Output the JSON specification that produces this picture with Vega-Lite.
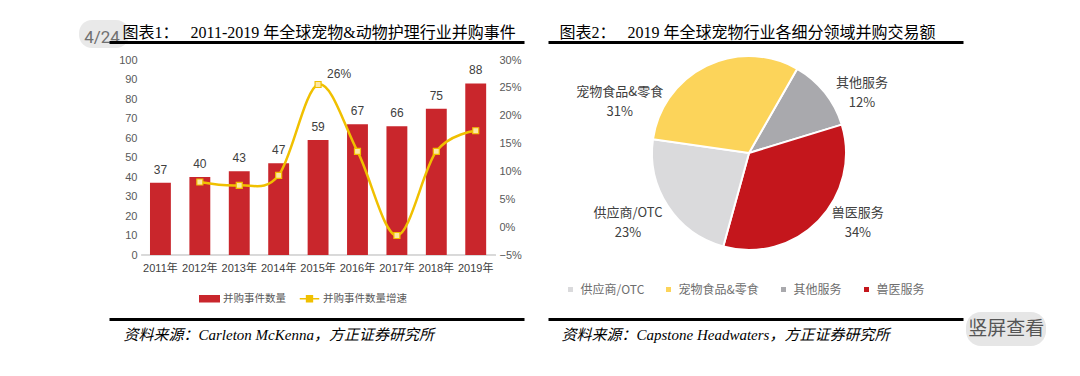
{
  "$schema": "https://vega.github.io/schema/vega-lite/v6.json",
  "background": "white",
  "autosize": {"type": "pad"},
  "padding": {"left": 78, "top": 20, "right": 5, "bottom": 5},
  "config": {
    "view": {"stroke": null},
    "font": "Liberation Sans, Noto Sans CJK SC",
    "axis": {"labelFont": "Liberation Sans, Noto Sans CJK SC", "labelOverlap": false},
    "legend": {"labelFont": "Noto Sans CJK SC"}
  },
  "datasets": {
    "events": [
      {"year": "2011年", "count": 37, "growth": null},
      {"year": "2012年", "count": 40, "growth": 0.081},
      {"year": "2013年", "count": 43, "growth": 0.075},
      {"year": "2014年", "count": 47, "growth": 0.093},
      {"year": "2015年", "count": 59, "growth": 0.256},
      {"year": "2016年", "count": 67, "growth": 0.136},
      {"year": "2017年", "count": 66, "growth": -0.015},
      {"year": "2018年", "count": 75, "growth": 0.136},
      {"year": "2019年", "count": 88, "growth": 0.173}
    ],
    "pie": [
      {"name": "其他服务", "share": 0.12, "ord": 1, "label": "其他服务\n12%"},
      {"name": "兽医服务", "share": 0.34, "ord": 2, "label": "兽医服务\n34%"},
      {"name": "供应商/OTC", "share": 0.23, "ord": 3, "label": "供应商/OTC\n23%"},
      {"name": "宠物食品&零食", "share": 0.31, "ord": 4, "label": "宠物食品&零食\n31%"}
    ]
  },
  "spacing": 24,
  "resolve": {"scale": {"color": "independent"}, "legend": {"color": "independent"}},
  "hconcat": [
    {
      "vconcat": [
        {
          "width": 415, "height": 1,
          "data": {"values": [{}]},
          "encoding": {
            "y": {"datum": 0.5, "type": "quantitative", "scale": {"domain": [0, 1]}, "axis": null}
          },
          "layer": [
            {
              "mark": {"type": "rect", "cornerRadius": 13, "color": "#E9E9E9"},
              "encoding": {
                "x": {"datum": -0.0723, "type": "quantitative"},
                "x2": {"datum": 0.0482},
                "y": {"datum": 23, "type": "quantitative"},
                "y2": {"datum": -5}
              }
            },
            {
              "mark": {"type": "point", "size": 0, "opacity": 0},
              "encoding": {
                "x": {"datum": 0.5, "type": "quantitative", "scale": {"domain": [0, 1]},
                  "axis": {"orient": "top", "labels": false, "ticks": false, "grid": false, "zindex": 1,
                    "domainColor": "#000000", "domainWidth": 3,
                    "title": "图表1：\u3000 2011-2019 年全球宠物&动物护理行业并购事件",
                    "titleAnchor": "start", "titleAlign": "left", "titleX": 13, "titleY": -10,
                    "titleBaseline": "middle", "titleFont": "Liberation Serif, Noto Sans CJK SC",
                    "titleFontSize": 16, "titleFontWeight": "normal", "titleColor": "#000000"}}
              }
            },
            {
              "mark": {"type": "text", "fontSize": 17, "color": "#707070", "font": "Roboto", "baseline": "middle"},
              "encoding": {
                "x": {"datum": -0.0169, "type": "quantitative"},
                "y": {"datum": 5, "type": "quantitative"},
                "text": {"value": "4/24"}
              }
            }
          ]
        },
        {
          "width": 415, "height": 195,
          "data": {"name": "events"},
          "encoding": {
            "x": {"field": "year", "type": "nominal", "sort": null,
              "scale": {"domain": ["2011年", "2012年", "2013年", "2014年", "2015年", "2016年", "2017年", "2018年", "2019年"],
                "paddingInner": 0.47, "paddingOuter": 1.195, "align": 0.52},
              "axis": {"title": null, "labelAngle": 0, "domain": false, "ticks": false,
                "labelPadding": 7, "labelFontSize": 11, "labelColor": "#404040", "labelOverlap": false}}
          },
          "layer": [
            {
              "encoding": {
                "y": {"field": "count", "type": "quantitative", "scale": {"domain": [0, 100]},
                  "axis": {"orient": "left", "title": null, "values": [0, 10, 20, 30, 40, 50, 60, 70, 80, 90, 100],
                    "labelOverlap": false, "domain": false, "ticks": false, "grid": false, "offset": -38, "labelPadding": 10,
                    "labelFontSize": 11, "labelColor": "#595959"}}
              },
              "layer": [
                {
                  "mark": {"type": "rule", "color": "#D9D9D9", "strokeWidth": 1},
                  "encoding": {
                    "x": {"datum": "2011年", "type": "nominal", "bandPosition": -0.4},
                    "x2": {"datum": "2019年", "bandPosition": 1.45},
                    "y": {"datum": 0, "type": "quantitative"}
                  }
                },
                {
                  "mark": {"type": "bar"},
                  "encoding": {
                    "color": {"datum": "并购事件数量",
                      "scale": {"domain": ["并购事件数量", "并购事件数量增速"], "range": ["#C9262C", "#F0C000"]},
                      "legend": {"orient": "none", "legendX": 90, "legendY": 228, "direction": "horizontal", "title": null,
                        "labelFontSize": 10.5, "labelColor": "#595959", "symbolSize": 380,
                        "symbolType": "M-1,-0.3H1V0.3H-1Z", "symbolStrokeWidth": 1.5,
                        "columnPadding": 10, "labelOffset": 3,
                        "encode": {"symbols": {"update": {
                          "shape": {"signal": "datum.value === '并购事件数量' ? 'M-1,-0.3H1V0.3H-1Z' : 'M-1,0H-0.32M0.32,0H1M-0.3,-0.3H0.3V0.3H-0.3Z'"},
                          "fill": {"signal": "datum.value === '并购事件数量' ? '#C9262C' : '#FDE7A4'"},
                          "stroke": {"signal": "datum.value === '并购事件数量' ? '#C9262C' : '#F0C000'"},
                          "strokeWidth": {"value": 1.5},
                          "opacity": {"value": 1}
                        }}}}}
                  }
                },
                {
                  "mark": {"type": "text", "baseline": "bottom", "dy": -6, "fontSize": 12, "color": "#404040"},
                  "encoding": {"text": {"field": "count", "type": "quantitative"}}
                }
              ]
            },
            {
              "transform": [{"filter": "isValid(datum.growth)"}],
              "encoding": {
                "y": {"field": "growth", "type": "quantitative", "scale": {"domain": [-0.05, 0.30]},
                  "axis": {"orient": "right", "title": null, "format": ".0%",
                    "values": [-0.05, 0, 0.05, 0.1, 0.15, 0.2, 0.25, 0.3], "labelOverlap": false,
                    "domain": false, "ticks": false, "grid": false, "offset": -33, "labelPadding": 8,
                    "labelFontSize": 11, "labelColor": "#595959"}}
              },
              "layer": [
                {
                  "mark": {"type": "line", "interpolate": "cardinal", "strokeWidth": 2.5},
                  "encoding": {"color": {"datum": "并购事件数量增速"}}
                },
                {
                  "mark": {"type": "point", "shape": "square", "filled": true, "size": 36,
                    "fill": "#FDE7A4", "stroke": "#F0C000", "strokeWidth": 1.2, "opacity": 1}
                },
                {
                  "transform": [{"filter": "datum.year === '2015年'"}],
                  "mark": {"type": "text", "align": "left", "dx": 9, "dy": -11, "fontSize": 12, "color": "#404040"},
                  "encoding": {"text": {"field": "growth", "type": "quantitative", "format": ".0%"}}
                }
              ]
            }
          ],
          "resolve": {"scale": {"y": "independent"}, "axis": {"y": "independent"}}
        },
        {
          "width": 415, "height": 47,
          "data": {"values": [{}]},
          "mark": {"type": "point", "size": 0, "opacity": 0},
          "encoding": {
            "x": {"datum": 0.5, "type": "quantitative", "scale": {"domain": [0, 1]},
              "axis": {"orient": "bottom", "labels": false, "ticks": false, "grid": false,
                "domainColor": "#000000", "domainWidth": 3,
                "title": "资料来源：Carleton McKenna，方正证券研究所",
                "titleAnchor": "start", "titleAlign": "left", "titleX": 14, "titleY": 15,
                "titleBaseline": "middle", "titleFont": "Liberation Serif, Noto Sans CJK SC",
                "titleFontStyle": "italic", "titleFontSize": 15, "titleFontWeight": "normal", "titleColor": "#000000"}}
          }
        }
      ],
      "spacing": 17,
      "bounds": "flush",
      "resolve": {"scale": {"color": "independent"}, "legend": {"color": "independent"}}
    },
    {
      "vconcat": [
        {
          "width": 415, "height": 1,
          "data": {"values": [{}]},
          "mark": {"type": "point", "size": 0, "opacity": 0},
          "encoding": {
            "x": {"datum": 0.5, "type": "quantitative", "scale": {"domain": [0, 1]},
              "axis": {"orient": "top", "labels": false, "ticks": false, "grid": false,
                "domainColor": "#000000", "domainWidth": 3,
                "title": "图表2：\u3000 2019 年全球宠物行业各细分领域并购交易额",
                "titleAnchor": "start", "titleAlign": "left", "titleX": 11, "titleY": -10,
                "titleBaseline": "middle", "titleFont": "Liberation Serif, Noto Sans CJK SC",
                "titleFontSize": 16, "titleFontWeight": "normal", "titleColor": "#000000"}}
          }
        },
        {
          "width": 402, "height": 186,
          "data": {"name": "pie"},
          "encoding": {
            "theta": {"field": "share", "type": "quantitative", "stack": true, "scale": {"range": [0.52, 6.8032]}},
            "order": {"field": "ord", "type": "quantitative"}
          },
          "layer": [
            {
              "mark": {"type": "arc", "outerRadius": 97, "stroke": "white", "strokeWidth": 2},
              "encoding": {
                "color": {"field": "name", "type": "nominal",
                  "scale": {"domain": ["供应商/OTC", "宠物食品&零食", "其他服务", "兽医服务"],
                    "range": ["#DADADC", "#FCD45A", "#A9A9AD", "#C4161C"]},
                  "legend": {"orient": "none", "legendX": 16.5, "legendY": 223.5, "direction": "horizontal", "title": null,
                    "symbolType": "square", "symbolSize": 25, "symbolStrokeWidth": 0,
                    "labelFontSize": 12, "labelColor": "#6E6E6E", "columnPadding": 18,
                    "labelOffset": 4}}
              }
            },
            {
              "mark": {"type": "text", "radius": 110, "dx": 27, "dy": -1, "fontSize": 13, "color": "#404040", "lineBreak": "\n", "lineHeight": 20, "font": "Noto Sans CJK SC"},
              "encoding": {"text": {"condition": {"test": "datum.name === '其他服务'", "field": "label"}, "value": ""}}
            },
            {
              "mark": {"type": "text", "radius": 110, "dx": 30, "dy": -17, "fontSize": 13, "color": "#404040", "lineBreak": "\n", "lineHeight": 20, "font": "Noto Sans CJK SC"},
              "encoding": {"text": {"condition": {"test": "datum.name === '兽医服务'", "field": "label"}, "value": ""}}
            },
            {
              "mark": {"type": "text", "radius": 110, "dx": -29, "dy": 0, "fontSize": 13, "color": "#404040", "lineBreak": "\n", "lineHeight": 20, "font": "Noto Sans CJK SC"},
              "encoding": {"text": {"condition": {"test": "datum.name === '供应商/OTC'", "field": "label"}, "value": ""}}
            },
            {
              "mark": {"type": "text", "radius": 110, "dx": -81, "dy": 38, "fontSize": 13, "color": "#404040", "lineBreak": "\n", "lineHeight": 20, "font": "Noto Sans CJK SC"},
              "encoding": {"text": {"condition": {"test": "datum.name === '宠物食品&零食'", "field": "label"}, "value": ""}}
            }
          ]
        },
        {
          "width": 415, "height": 56,
          "data": {"values": [{}]},
          "encoding": {
            "y": {"datum": 0.5, "type": "quantitative", "scale": {"domain": [0, 1]}, "axis": null}
          },
          "layer": [
            {
              "mark": {"type": "point", "size": 0, "opacity": 0},
              "encoding": {
                "x": {"datum": 0.5, "type": "quantitative", "scale": {"domain": [0, 1]},
                  "axis": {"orient": "bottom", "labels": false, "ticks": false, "grid": false,
                    "domainColor": "#000000", "domainWidth": 3,
                    "title": "资料来源：Capstone Headwaters，方正证券研究所",
                    "titleAnchor": "start", "titleAlign": "left", "titleX": 13, "titleY": 15,
                    "titleBaseline": "middle", "titleFont": "Liberation Serif, Noto Sans CJK SC",
                    "titleFontStyle": "italic", "titleFontSize": 15, "titleFontWeight": "normal", "titleColor": "#000000"}}
              }
            },
            {
              "mark": {"type": "rect", "cornerRadius": 15, "color": "#E6E6E6"},
              "encoding": {
                "x": {"datum": 1.0072, "type": "quantitative"},
                "x2": {"datum": 1.2},
                "y": {"datum": 0.125, "type": "quantitative"},
                "y2": {"datum": -0.482}
              }
            },
            {
              "mark": {"type": "text", "fontSize": 19, "color": "#555555", "font": "Noto Sans CJK SC", "baseline": "middle"},
              "encoding": {
                "x": {"datum": 1.104, "type": "quantitative"},
                "y": {"datum": -0.179, "type": "quantitative"},
                "text": {"value": "竖屏查看"}
              }
            }
          ]
        }
      ],
      "spacing": 17,
      "bounds": "flush",
      "resolve": {"scale": {"color": "independent"}, "legend": {"color": "independent"}}
    }
  ]
}
